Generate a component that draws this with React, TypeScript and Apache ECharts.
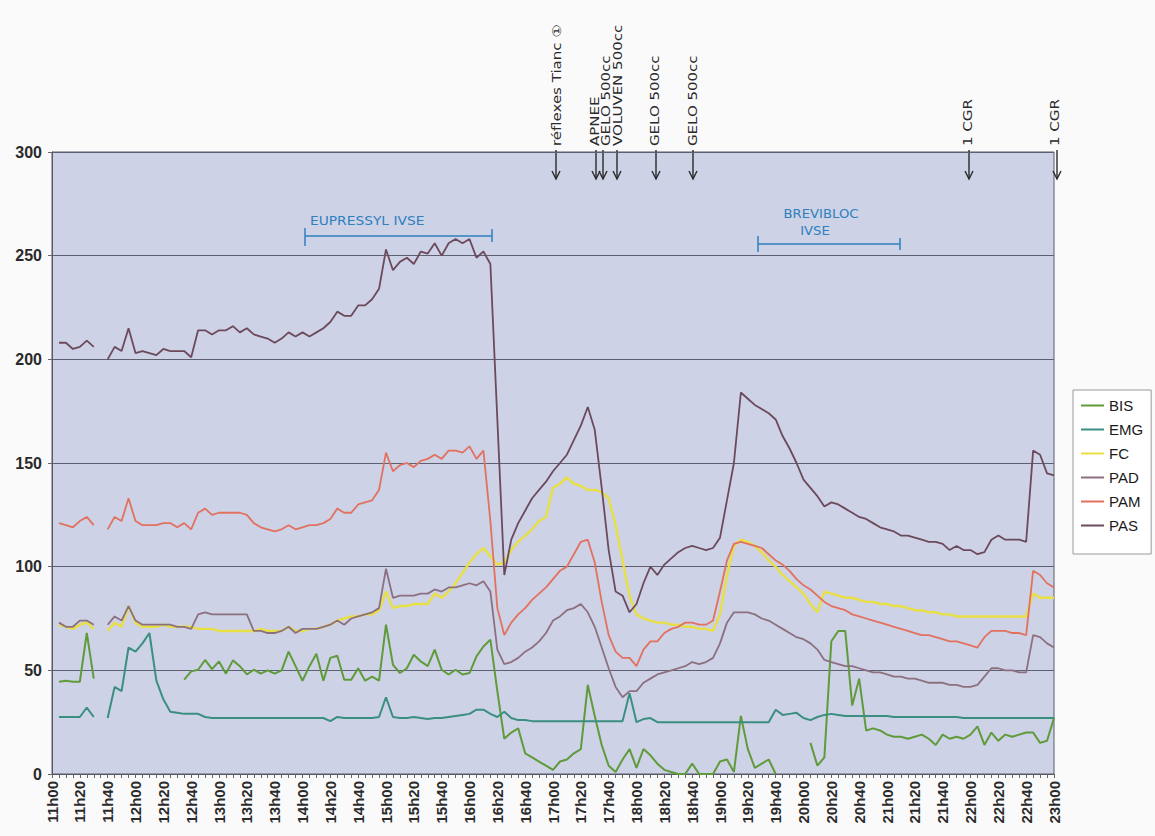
import React, { useEffect, useRef } from "react";
import * as echarts from "echarts";

// ---- categories: one every 5 minutes, 11h00 .. 23h00 ----
const categories: string[] = [];
for (let h = 11; h <= 23; h++) {
  for (let m = 0; m < 60; m += 5) {
    if (h === 23 && m > 0) break;
    categories.push(`${h}h${String(m).padStart(2, "0")}`);
  }
}

const yTicks = { min: 0, max: 300, step: 50 };

const seriesNames = ["BIS", "EMG", "FC", "PAD", "PAM", "PAS"];

const BIS: (number | null)[] = [null,
  44.5, 45, 44.5, 44.5, 68, 46, null, null, null, null,
  null, null, null, null, null, null, null, null, 45.5, 49.5,
  50.3, 55, 50.6, 54.3, 48.4, 54.8, 52, 48, 50.3, 48.4,
  50, 48.4, 50, 59, 52, 45, 52, 58, 45, 56,
  57, 45.5, 45.5, 51, 45, 47, 45, 72, 52.7, 48.7,
  51, 57.5, 54.3, 52, 60, 50.3, 48, 50.3, 48, 48.7,
  56.7, 61.5, 64.8, 40, 17, 20, 22, 10, 8, 6,
  4, 2, 6, 7, 10, 12, 43, 28, 14, 4,
  1, 7, 12, 3, 12, 9, 5, 2, 1, 0,
  0, 5, 0, 0, 0, 6, 7, 1, 28, 12,
  3, 5, 7, 0, null, null, null, null, 15, 4,
  8, 64, 69, 69, 33, 46, 21, 22, 21, 19,
  18, 18, 17, 18, 19, 17, 14, 19, 17, 18,
  17, 19, 23, 14, 20, 16, 19, 18, 19, 20,
  20, 15, 16, 27];

const EMG: (number | null)[] = [null,
  27.5, 27.5, 27.5, 27.5, 32, 27.5, null, 27, 42, 40,
  61, 59, 63, 68, 45, 36, 30, 29.5, 29, 29,
  29, 27.5, 27, 27, 27, 27, 27, 27, 27, 27,
  27, 27, 27, 27, 27, 27, 27, 27, 27, 25.5,
  27.5, 27, 27, 27, 27, 27, 27.5, 37, 27.5, 27,
  27, 27.5, 27, 26.5, 27, 27, 27.5, 28, 28.5, 29,
  31, 31, 29, 27.5, 30, 27, 26, 26, 25.5, 25.5,
  25.5, 25.5, 25.5, 25.5, 25.5, 25.5, 25.5, 25.5, 25.5, 25.5,
  25.5, 25.5, 39, 25, 26.5, 27, 25, 25, 25, 25,
  25, 25, 25, 25, 25, 25, 25, 25, 25, 25,
  25, 25, 25, 31, 28.5, 29, 29.5, 27, 26, 27.5,
  28.5, 29, 28.5, 28, 28, 28, 28, 28, 28, 28,
  27.5, 27.5, 27.5, 27.5, 27.5, 27.5, 27.5, 27.5, 27.5, 27.5,
  27, 27, 27, 27, 27, 27, 27, 27, 27, 27,
  27, 27, 27, 27];

const FC: (number | null)[] = [null,
  72, 71, 70, 72, 73, 70, null, 69, 73, 71,
  81, 73, 71, 71, 71, 72, 71, 71, 71, 71,
  70, 70, 70, 69, 69, 69, 69, 69, 69, 70,
  69, 69, 69, 71, 69, 69, 70, 70, 71, 72,
  74, 75, 76, 76, 77, 77, 79, 88, 80, 81,
  81, 82, 82, 82, 87, 85, 88, 92, 97, 102,
  106, 109, 105, 101, 102, 108, 112, 115, 118, 122,
  124, 138, 140, 143, 140, 139, 137, 137, 136, 133,
  120, 103, 86, 77, 75, 74, 73, 73, 72, 72,
  71, 71, 70, 70, 69, 77, 96, 110, 113, 112,
  110, 107, 103, 100, 96, 93, 90, 87, 82, 78,
  88, 87, 86, 85, 85, 84, 83, 83, 82, 82,
  81, 81, 80, 79, 79, 78, 78, 77, 77, 76,
  76, 76, 76, 76, 76, 76, 76, 76, 76, 76,
  87, 85, 85, 85];

const PAD: (number | null)[] = [null,
  73, 71, 71, 74, 74, 72, null, 72, 76, 74,
  81, 74, 72, 72, 72, 72, 72, 71, 71, 70,
  77, 78, 77, 77, 77, 77, 77, 77, 69, 69,
  68, 68, 69, 71, 68, 70, 70, 70, 71, 72,
  74, 72, 75, 76, 77, 78, 80, 99, 85, 86,
  86, 86, 87, 87, 89, 88, 90, 90, 91, 92,
  91, 93, 88, 60, 53, 54, 56, 59, 61, 64,
  68, 74, 76, 79, 80, 82, 78, 71, 61, 51,
  42, 37, 40, 40, 44, 46, 48, 49, 50, 51,
  52, 54, 53, 54, 56, 63, 73, 78, 78, 78,
  77, 75, 74, 72, 70, 68, 66, 65, 63, 60,
  55, 54, 53, 52, 52, 51, 50, 49, 49, 48,
  47, 47, 46, 46, 45, 44, 44, 44, 43, 43,
  42, 42, 43, 47, 51, 51, 50, 50, 49, 49,
  67, 66, 63, 61];

const PAM: (number | null)[] = [null,
  121, 120, 119, 122, 124, 120, null, 118, 124, 122,
  133, 122, 120, 120, 120, 121, 121, 119, 121, 118,
  126, 128, 125, 126, 126, 126, 126, 125, 121, 119,
  118, 117, 118, 120, 118, 119, 120, 120, 121, 123,
  128, 126, 126, 130, 131, 132, 137, 155, 146, 149,
  150, 148, 151, 152, 154, 152, 156, 156, 155, 158,
  152, 156, 122, 80, 67, 73, 77, 80, 84, 87,
  90, 94, 98, 100, 106, 112, 113, 102, 83, 67,
  59, 56, 56, 52, 60, 64, 64, 68, 70, 71,
  73, 73, 72, 72, 74, 88, 103, 111, 112, 111,
  110, 109, 106, 103, 101, 98, 94, 91, 89, 86,
  83, 81, 80, 79, 77, 76, 75, 74, 73, 72,
  71, 70, 69, 68, 67, 67, 66, 65, 64, 64,
  63, 62, 61, 66, 69, 69, 69, 68, 68, 67,
  98, 96, 92, 90];

const PAS: (number | null)[] = [null,
  208, 208, 205, 206, 209, 206, null, 200, 206, 204,
  215, 203, 204, 203, 202, 205, 204, 204, 204, 201,
  214, 214, 212, 214, 214, 216, 213, 215, 212, 211,
  210, 208, 210, 213, 211, 213, 211, 213, 215, 218,
  223, 221, 221, 226, 226, 229, 234, 253, 243, 247,
  249, 246, 252, 251, 256, 250, 256, 258, 256, 258,
  249, 252, 246, 171, 96, 113, 121, 127, 133, 137,
  141, 146, 150, 154, 161, 168, 177, 166, 138, 108,
  88, 86, 78, 82, 92, 100, 96, 101, 104, 107,
  109, 110, 109, 108, 109, 114, 132, 150, 184, 181,
  178, 176, 174, 171, 163, 157, 150, 142, 138, 134,
  129, 131, 130, 128, 126, 124, 123, 121, 119, 118,
  117, 115, 115, 114, 113, 112, 112, 111, 108, 110,
  108, 108, 106, 107, 113, 115, 113, 113, 113, 112,
  156, 154, 145, 144];

const seriesData = [BIS, EMG, FC, PAD, PAM, PAS];
const seriesColors = ["#5f9b3b", "#3b8f80", "#e8df45", "#8c7080", "#e2715f", "#6c4a5c"];
const seriesWidths = [2, 2, 2.4, 1.8, 1.8, 1.8];

// handwritten annotations (texts, in the original language)
const eventLabels = [
  "réflexes Tianc ①",
  "APNEE",
  "GELO 500cc",
  "VOLUVEN 500cc",
  "GELO 500cc",
  "GELO 500cc",
  "1 CGR",
  "1 CGR",
];
const eventArrowX = [556, 596, 603, 617, 656, 693, 969, 1057];
const eventTextX = [557, 595, 606, 618, 655, 693, 968, 1055];

const infusionLabels = [["EUPRESSYL IVSE"], ["BREVIBLOC", "IVSE"]];

function buildGraphic() {
  const els: any[] = [];
  const ink = "#2a2a2a";
  eventLabels.forEach((t, k) => {
    const ax = eventArrowX[k];
    els.push({
      type: "text",
      x: eventTextX[k],
      y: 146,
      rotation: Math.PI / 2,
      scaleX: 1.25,
      style: {
        text: t,
        fill: ink,
        font: "12px 'DejaVu Sans'",
        textAlign: "left",
        textVerticalAlign: "middle",
      },
    });
    els.push({
      type: "line",
      shape: { x1: ax, y1: 150, x2: ax, y2: 179 },
      style: { stroke: ink, lineWidth: 1.4 },
    });
    els.push({
      type: "polyline",
      shape: { points: [[ax - 4, 171], [ax, 179], [ax + 4, 171]] },
      style: { stroke: ink, lineWidth: 1.4, fill: null },
    });
  });
  const blue = "#2f80be";
  // EUPRESSYL IVSE bracket
  els.push({ type: "line", shape: { x1: 305, y1: 236, x2: 492, y2: 236 }, style: { stroke: blue, lineWidth: 1.5 } });
  els.push({ type: "line", shape: { x1: 305, y1: 228, x2: 305, y2: 246 }, style: { stroke: blue, lineWidth: 1.5 } });
  els.push({ type: "line", shape: { x1: 492, y1: 229, x2: 492, y2: 242 }, style: { stroke: blue, lineWidth: 1.5 } });
  els.push({
    type: "text", x: 310, y: 221, scaleX: 1.15,
    style: { text: infusionLabels[0][0], fill: blue, font: "12px 'DejaVu Sans'", textAlign: "left", textVerticalAlign: "middle" },
  });
  // BREVIBLOC IVSE bracket
  els.push({ type: "line", shape: { x1: 758, y1: 244, x2: 900, y2: 244 }, style: { stroke: blue, lineWidth: 1.5 } });
  els.push({ type: "line", shape: { x1: 758, y1: 236, x2: 758, y2: 252 }, style: { stroke: blue, lineWidth: 1.5 } });
  els.push({ type: "line", shape: { x1: 900, y1: 238, x2: 900, y2: 250 }, style: { stroke: blue, lineWidth: 1.5 } });
  els.push({
    type: "text", x: 821, y: 214, scaleX: 1.1,
    style: { text: infusionLabels[1][0], fill: blue, font: "12px 'DejaVu Sans'", textAlign: "center", textVerticalAlign: "middle" },
  });
  els.push({
    type: "text", x: 815, y: 231, scaleX: 1.1,
    style: { text: infusionLabels[1][1], fill: blue, font: "12px 'DejaVu Sans'", textAlign: "center", textVerticalAlign: "middle" },
  });
  return els;
}

export default function App() {
  const ref = useRef<HTMLDivElement>(null);
  useEffect(() => {
    if (!ref.current) return;
    const chart = echarts.init(ref.current, null, { renderer: "svg" });
    const font = "'Liberation Sans', Arial, sans-serif";
    chart.setOption({
      animation: false,
      backgroundColor: "#fafafa",
      grid: {
        left: 52,
        right: 101,
        top: 152,
        bottom: 62,
        show: true,
        backgroundColor: "#cdd2e6",
        borderColor: "#5a5c6a",
        borderWidth: 1,
      },
      legend: {
        orient: "vertical",
        left: 1073,
        top: 390,
        padding: [7, 8, 20, 8],
        backgroundColor: "#ffffff",
        borderColor: "#9a9a9a",
        borderWidth: 1,
        icon: "rect",
        itemWidth: 23,
        itemHeight: 2,
        itemGap: 7,
        textStyle: { fontSize: 15, color: "#1a1a1a", fontFamily: font, lineHeight: 17 },
        data: seriesNames,
      },
      xAxis: {
        type: "category",
        data: categories,
        boundaryGap: false,
        axisLine: { lineStyle: { color: "#55576a", width: 1 } },
        axisTick: { interval: 0, length: 4, lineStyle: { color: "#666" } },
        axisLabel: {
          interval: 3,
          rotate: 90,
          fontSize: 15,
          fontWeight: "bold",
          color: "#2a2a2a",
          fontFamily: font,
          margin: 7,
        },
        splitLine: { show: false },
      },
      yAxis: {
        type: "value",
        min: yTicks.min,
        max: yTicks.max,
        interval: yTicks.step,
        axisLine: { show: true, lineStyle: { color: "#55576a" } },
        axisTick: { show: true, length: 4, lineStyle: { color: "#666" } },
        axisLabel: {
          fontSize: 16,
          fontWeight: "bold",
          color: "#2a2a2a",
          fontFamily: font,
          margin: 10,
        },
        splitLine: { show: true, lineStyle: { color: "#5d6070", width: 1 } },
      },
      graphic: buildGraphic(),
      series: seriesNames.map((name, k) => ({
        name,
        type: "line",
        data: seriesData[k],
        color: seriesColors[k],
        showSymbol: false,
        symbol: "none",
        connectNulls: false,
        lineStyle: { width: seriesWidths[k], color: seriesColors[k] },
        itemStyle: { color: seriesColors[k] },
      })),
    });
    return () => chart.dispose();
  }, []);
  return (
    <div
      ref={ref}
      style={{ position: "absolute", left: 0, top: 0, width: 1155, height: 836 }}
    />
  );
}
